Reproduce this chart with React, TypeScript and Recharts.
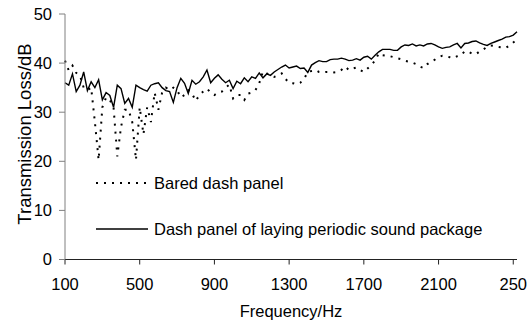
import { LineChart, Line, XAxis, YAxis, Legend } from 'recharts';

const FONT = '"Liberation Sans", Arial, sans-serif';

// transmission loss (dB), sampled every 20 Hz from 100 Hz
const BARED = [
  40.5, 38.5, 39.5, 38.0, 37.5, 35.0, 34.5, 35.0, 28.0, 20.3,
  31.0, 33.0, 32.5, 31.0, 21.0, 27.0, 30.5, 30.5, 28.0, 20.3,
  31.0, 25.5, 31.0, 28.0, 34.0, 30.5, 34.0, 35.0, 34.5, 35.0,
  34.5, 33.0, 33.5, 34.5, 33.8, 32.3, 33.5, 34.2, 34.8, 34.0,
  33.5, 34.0, 34.2, 35.0, 35.6, 32.8, 33.5, 33.5, 32.5, 33.8,
  34.0, 34.5, 35.9, 38.3, 37.9, 37.5, 37.2, 37.5, 37.9, 36.8,
  36.0, 35.9, 35.7, 36.0, 36.8, 38.2, 38.4, 38.6, 38.2, 38.1,
  38.2, 38.2, 38.1, 38.2, 38.6, 39.3, 38.6, 38.9, 39.1, 38.6,
  38.2, 38.9, 39.6, 40.5, 42.0, 41.6, 41.5, 41.4, 41.2, 41.0,
  40.8, 40.5, 40.3, 40.1, 39.8, 39.3, 39.0, 39.8, 40.3, 40.7,
  41.2, 41.5, 41.4, 41.2, 41.0, 41.4, 41.6, 42.4, 42.3, 41.9,
  41.8, 42.4, 42.8, 43.3, 43.6, 43.5, 43.3, 43.2, 43.1, 43.6,
  44.2, 44.8,
];

const PACKAGE = [
  36.0, 35.5, 37.8, 34.2, 35.5, 38.2, 34.4, 36.2, 35.0, 36.6,
  32.5, 34.0, 33.4, 31.0, 35.5, 34.8, 31.8, 32.8, 31.0, 35.5,
  35.0, 34.6, 34.3, 35.5, 35.8, 36.0, 35.0, 34.4, 34.2, 32.0,
  35.0, 36.9, 35.9, 33.8, 36.5, 35.7, 36.2, 37.2, 38.6, 36.0,
  36.9, 37.6, 36.7, 36.0, 36.5, 34.8, 36.3, 35.8, 37.0, 36.2,
  37.2, 36.9, 38.0, 37.0, 37.8, 37.5, 38.2, 38.7, 39.2, 39.6,
  39.0, 39.2, 39.4, 38.9, 39.0, 38.1, 39.6, 40.1, 40.5, 40.3,
  40.3, 40.7, 40.8, 40.8, 41.0, 40.8, 40.5, 40.6, 40.9, 40.6,
  41.2, 41.4, 40.8, 41.6, 42.3, 42.8, 42.8, 42.8, 42.6, 42.6,
  43.3, 43.7, 43.6, 43.9, 43.5, 43.7, 43.5, 43.9, 44.0, 43.7,
  43.3, 43.0, 43.2, 43.3, 43.7, 44.0, 43.1, 44.0, 44.1, 44.4,
  44.5, 44.1, 43.8, 43.6, 44.0, 44.3, 44.6, 44.9, 45.3, 45.4,
  45.7, 46.4,
];

const FREQ = BARED.map((_, i) => 100 + 20 * i);
const X_TICKS = [100, 500, 900, 1300, 1700, 2100, 2500];
const Y_TICKS = [0, 10, 20, 30, 40, 50];

const data = FREQ.map((f, i) => ({ freq: f, bared: BARED[i], pkg: PACKAGE[i] }));

const DASH: Record<string, string | undefined> = { bared: '2 6', pkg: undefined };

function XTick({ x, y, payload }: any) {
  // the last label is cut off in the original picture
  const label = payload.value === 2500 ? '250' : String(payload.value);
  return (
    <text x={x} y={y} dy="0.71em" textAnchor="middle" fill="#000" fontSize={16.5} fontFamily={FONT}>
      {label}
    </text>
  );
}

function renderLegend({ payload }: any) {
  return (
    <div style={{ fontFamily: FONT, fontSize: 16.5, color: '#000' }}>
      {payload.map((entry: any, i: number) => (
        <div key={i} style={{ display: 'flex', alignItems: 'center', height: 20, marginBottom: i === 0 ? 26 : 0 }}>
          <svg width={54} height={6} style={{ marginRight: 4 }}>
            <line x1={0} y1={3} x2={52} y2={3} stroke="#000"
              strokeWidth={entry.dataKey === 'bared' ? 2 : 1.4}
              strokeDasharray={DASH[entry.dataKey]} />
          </svg>
          <span>{entry.value}</span>
        </div>
      ))}
    </div>
  );
}

export default function App() {
  return (
    <div style={{ width: 532, height: 324, position: 'relative', background: '#fff' }}>
      <style>{'body{margin:0}'}</style>
      <LineChart width={532} height={324} data={data} margin={{ top: 14, right: 15, left: 0, bottom: 0 }}>
        <XAxis
          dataKey="freq"
          type="number"
          domain={[100, 2520]}
          ticks={X_TICKS}
          height={64.5}
          stroke="#222"
          tickSize={5}
          tickMargin={14}
          tick={<XTick />}
          label={{
            content: ({ viewBox }: any) => (
              <text x={viewBox.x + viewBox.width / 2} y={viewBox.y + 57} textAnchor="middle"
                fill="#000" fontSize={16.5} fontFamily={FONT}>Frequency/Hz</text>
            ),
          }}
        />
        <YAxis
          domain={[0, 50]}
          ticks={Y_TICKS}
          width={65}
          stroke="#808080"
          tickSize={6}
          tickMargin={7}
          tick={{ fill: '#000', fontSize: 16.5, fontFamily: FONT }}
          label={{
            content: () => (
              <text x={0} y={0} transform="translate(31,134) rotate(-90)" textAnchor="middle"
                fill="#000" fontSize={18.5} fontFamily={FONT}>Transmission Loss/dB</text>
            ),
          }}
        />
        <Legend
          layout="vertical"
          align="center"
          verticalAlign="middle"
          content={renderLegend}
          wrapperStyle={{ position: 'absolute', left: 96, top: 173, width: 'auto', height: 'auto' }}
        />
        <Line dataKey="bared" name="Bared dash panel" stroke="#000" strokeWidth={2}
          strokeDasharray="2 6" dot={false} isAnimationActive={false} />
        <Line dataKey="pkg" name="Dash panel of laying periodic sound package" stroke="#000"
          strokeWidth={1.4} dot={false} isAnimationActive={false} />
      </LineChart>
    </div>
  );
}
